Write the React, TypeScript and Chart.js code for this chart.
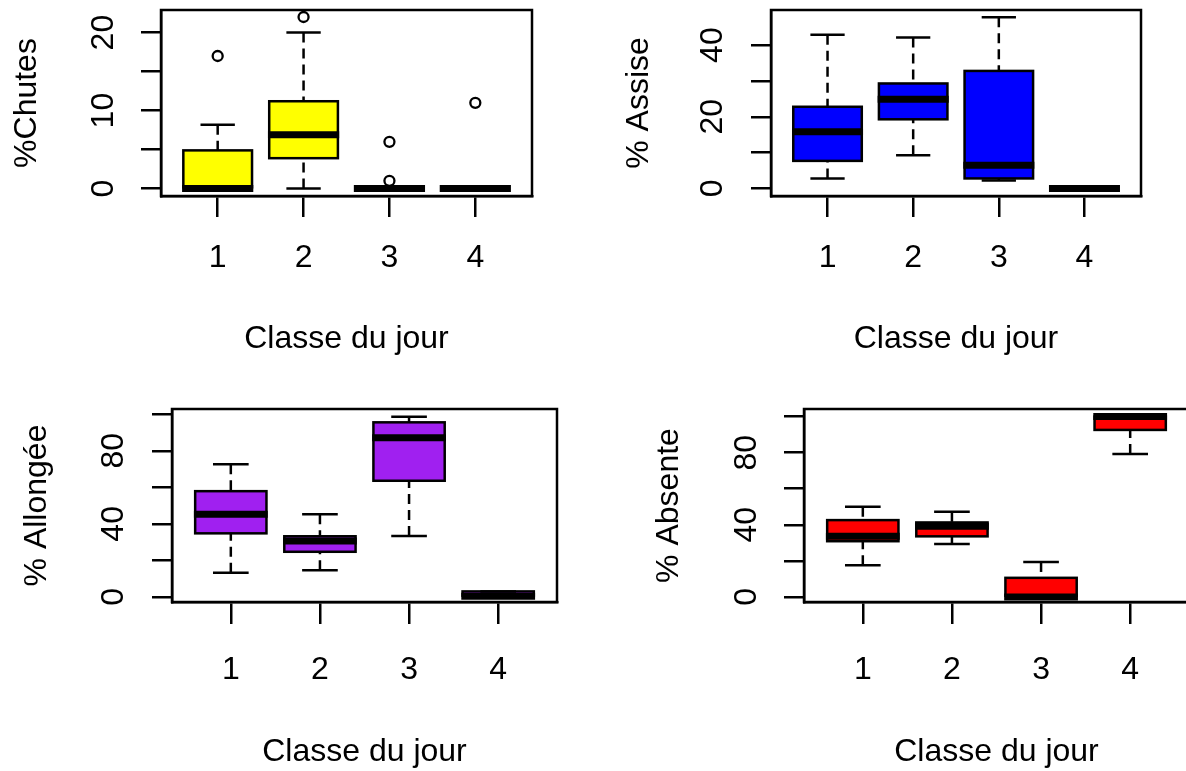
import React, { useEffect, useRef } from "react";
import { Chart, registerables } from "chart.js";

Chart.register(...registerables);

// ---------- data ----------
const classes = [1, 2, 3, 4];
const xTickValues = [1, 2, 3, 4];
const xTitle = "Classe du jour";

// % Chutes
const chutesLow = [0, 0, 0, 0];
const chutesQ1 = [0, 3.9, 0, 0];
const chutesMed = [0, 6.9, 0, 0];
const chutesQ3 = [4.9, 11.2, 0, 0];
const chutesHigh = [8.2, 20, 0, 0];
const chutesOutliers = [[17], [22], [6, 1], [11]];
const chutesTicks = [0, 5, 10, 15, 20];
const chutesTickLabels = [0, 10, 20];

// % Assise
const assiseLow = [2.8, 9.3, 2.2, 0];
const assiseQ1 = [7.7, 19.3, 2.8, 0];
const assiseMed = [15.8, 24.9, 6.5, 0];
const assiseQ3 = [22.8, 29.3, 32.8, 0];
const assiseHigh = [42.9, 42.1, 47.8, 0];
const assiseOutliers: number[][] = [[], [], [], []];
const assiseTicks = [0, 10, 20, 30, 40];
const assiseTickLabels = [0, 20, 40];

// % Allongée
const allongeeLow = [13.2, 14.6, 33.4, 0];
const allongeeQ1 = [34.8, 24.7, 63.6, 0];
const allongeeMed = [45.2, 30.6, 87.2, 0.3];
const allongeeQ3 = [57.9, 33.2, 95.6, 3];
const allongeeHigh = [72.6, 45.2, 98.7, 3];
const allongeeOutliers: number[][] = [[], [], [], []];
const allongeeTicks = [0, 20, 40, 60, 80, 100];
const allongeeTickLabels = [0, 40, 80];

// % Absente
const absenteLow = [17.6, 29.3, 0, 79.3];
const absenteQ1 = [30.9, 33.6, 0, 92.6];
const absenteMed = [33.6, 39.2, 0, 100];
const absenteQ3 = [42.6, 41.3, 10.6, 100];
const absenteHigh = [50, 47.2, 19.4, 100];
const absenteOutliers: number[][] = [[], [], [], []];
const absenteTicks = [0, 20, 40, 60, 80, 100];
const absenteTickLabels = [0, 40, 80];

// ---------- styles / layout ----------
const FONT = { family: "'Liberation Sans', Arial, sans-serif", size: 32, lineHeight: 1.2 };
const PAD = { left: 10, top: 60, right: 10, bottom: 10 };
const STAPLE_HALF = 0.2;
const X_MIN = 0.34;
const X_MAX = 4.66;
const LINE_W = 2.5;
const MEDIAN_W = 7;

type Area = { l: number; t: number; r: number; b: number };
type PanelSpec = {
  key: string;
  yTitle: string;
  color: string;
  low: number[];
  q1: number[];
  med: number[];
  q3: number[];
  high: number[];
  outliers: number[][];
  yMin: number;
  yMax: number;
  yTicks: number[];
  yLabels: number[];
  area: Area;
  yLabelPad: number;
  yAxisW: number;
  xTickLen: number;
  xLabelPad: number;
  xAxisH: number;
};

const panels: PanelSpec[] = [
  {
    key: "chutes", yTitle: "%Chutes", color: "#FFFF00",
    low: chutesLow, q1: chutesQ1, med: chutesMed, q3: chutesQ3, high: chutesHigh, outliers: chutesOutliers,
    yMin: -0.95, yMax: 22.9, yTicks: chutesTicks, yLabels: chutesTickLabels,
    area: { l: 161, t: 10, r: 532, b: 196 },
    yLabelPad: 19, yAxisW: 153, xTickLen: 21, xLabelPad: 22, xAxisH: 162,
  },
  {
    key: "assise", yTitle: "% Assise", color: "#0000FF",
    low: assiseLow, q1: assiseQ1, med: assiseMed, q3: assiseQ3, high: assiseHigh, outliers: assiseOutliers,
    yMin: -2.1, yMax: 49.8, yTicks: assiseTicks, yLabels: assiseTickLabels,
    area: { l: 771, t: 10, r: 1141, b: 196 },
    yLabelPad: 20, yAxisW: 151, xTickLen: 21, xLabelPad: 22, xAxisH: 162,
  },
  {
    key: "allongee", yTitle: "% Allongée", color: "#A020F0",
    low: allongeeLow, q1: allongeeQ1, med: allongeeMed, q3: allongeeQ3, high: allongeeHigh, outliers: allongeeOutliers,
    yMin: -2.8, yMax: 102.9, yTicks: allongeeTicks, yLabels: allongeeTickLabels,
    area: { l: 172, t: 409, r: 557, b: 602 },
    yLabelPad: 20.5, yAxisW: 154, xTickLen: 22, xLabelPad: 27, xAxisH: 169,
  },
  {
    key: "absente", yTitle: "% Absente", color: "#FF0000",
    low: absenteLow, q1: absenteQ1, med: absenteMed, q3: absenteQ3, high: absenteHigh, outliers: absenteOutliers,
    yMin: -2.8, yMax: 104.2, yTicks: absenteTicks, yLabels: absenteTickLabels,
    area: { l: 804, t: 409, r: 1189, b: 602 },
    yLabelPad: 19, yAxisW: 154, xTickLen: 22, xLabelPad: 27, xAxisH: 169,
  },
];

function makeBoxPlugin(spec: PanelSpec) {
  return {
    id: "boxExtras_" + spec.key,
    afterDatasetDraw(chart: any, args: any) {
      if (args.index !== 1) return;
      const ctx = chart.ctx as CanvasRenderingContext2D;
      const xs = chart.scales.x;
      const ys = chart.scales.y;
      const bars = chart.getDatasetMeta(1).data;
      ctx.save();
      ctx.strokeStyle = "#000";
      ctx.lineCap = "butt";
      classes.forEach((c, i) => {
        const bar = bars[i].getProps(["x", "y", "base", "width"], true);
        const xc = bar.x;
        const half = bar.width / 2;
        const sh = xs.getPixelForValue(c + STAPLE_HALF) - xs.getPixelForValue(c);
        // whiskers (dashed, drawn from whisker end toward the box)
        ctx.lineWidth = LINE_W;
        ctx.setLineDash([10, 6]);
        const seg = (from: number, to: number) => {
          if (from === to) return;
          ctx.beginPath();
          ctx.moveTo(xc, ys.getPixelForValue(from));
          ctx.lineTo(xc, ys.getPixelForValue(to));
          ctx.stroke();
        };
        seg(spec.high[i], spec.q3[i]);
        seg(spec.low[i], spec.q1[i]);
        ctx.setLineDash([]);
        // staples
        [spec.high[i], spec.low[i]].forEach((v) => {
          const y = ys.getPixelForValue(v);
          ctx.beginPath();
          ctx.moveTo(xc - sh, y);
          ctx.lineTo(xc + sh, y);
          ctx.stroke();
        });
        // box outline
        const top = Math.min(bar.y, bar.base);
        const h = Math.abs(bar.base - bar.y);
        ctx.strokeRect(xc - half, top, 2 * half, h);
        // median
        ctx.lineWidth = MEDIAN_W;
        const ym = ys.getPixelForValue(spec.med[i]);
        ctx.beginPath();
        ctx.moveTo(xc - half - LINE_W / 2, ym);
        ctx.lineTo(xc + half + LINE_W / 2, ym);
        ctx.stroke();
      });
      ctx.restore();
    },
    afterDraw(chart: any) {
      const ctx = chart.ctx as CanvasRenderingContext2D;
      const { left, top, right, bottom } = chart.chartArea;
      ctx.save();
      ctx.strokeStyle = "#000";
      ctx.lineWidth = LINE_W;
      ctx.strokeRect(left, top, right - left, bottom - top);
      ctx.restore();
    },
  };
}

function Panel({ spec }: { spec: PanelSpec }) {
  const ref = useRef<HTMLCanvasElement>(null);
  const { l, t, r, b } = spec.area;
  const cl = l - spec.yAxisW - PAD.left;
  const ct = t - PAD.top;
  const cw = r + PAD.right - cl;
  const ch = b + spec.xAxisH + PAD.bottom - ct;

  useEffect(() => {
    if (!ref.current) return;
    const outlierPoints: { x: number; y: number }[] = [];
    spec.outliers.forEach((arr, i) => arr.forEach((v) => outlierPoints.push({ x: classes[i], y: v })));
    const chart = new Chart(ref.current, {
      type: "bar",
      data: {
        datasets: [
          {
            type: "scatter",
            data: outlierPoints,
            pointStyle: "circle",
            pointRadius: 5,
            pointBorderWidth: 2.3,
            pointBorderColor: "#000",
            pointBackgroundColor: "rgba(0,0,0,0)",
            borderColor: "#000",
            backgroundColor: "rgba(0,0,0,0)",
          } as any,
          {
            type: "bar",
            data: classes.map((c, i) => ({ x: c, y: [spec.q1[i], spec.q3[i]] })),
            backgroundColor: spec.color,
            borderWidth: 0,
            borderSkipped: false,
            barPercentage: 0.8,
            categoryPercentage: 1,
          } as any,
        ],
      },
      options: {
        responsive: false,
        animation: false,
        events: [],
        layout: { padding: PAD },
        plugins: { legend: { display: false }, tooltip: { enabled: false } },
        scales: {
          x: {
            type: "linear",
            min: X_MIN,
            max: X_MAX,
            offset: false,
            afterBuildTicks: (s: any) => {
              s.ticks = xTickValues.map((v) => ({ value: v }));
            },
            afterFit: (s: any) => {
              s.height = spec.xAxisH;
            },
            grid: {
              offset: false,
              drawOnChartArea: false,
              drawTicks: true,
              tickLength: spec.xTickLen,
              color: "#000",
              tickColor: "#000",
              lineWidth: LINE_W,
            },
            border: { display: true, color: "#000", width: LINE_W },
            ticks: {
              autoSkip: false,
              maxRotation: 0,
              minRotation: 0,
              padding: spec.xLabelPad,
              font: FONT,
              color: "#000",
              callback: (v: any) => String(v),
            },
            title: { display: true, text: xTitle, font: FONT, color: "#000", padding: 0 },
          },
          y: {
            type: "linear",
            min: spec.yMin,
            max: spec.yMax,
            afterBuildTicks: (s: any) => {
              s.ticks = spec.yTicks.map((v) => ({ value: v }));
            },
            afterFit: (s: any) => {
              s.width = spec.yAxisW;
            },
            grid: {
              drawOnChartArea: false,
              drawTicks: true,
              tickLength: 20,
              color: "#000",
              tickColor: "#000",
              lineWidth: LINE_W,
            },
            border: { display: true, color: "#000", width: LINE_W },
            ticks: {
              autoSkip: false,
              minRotation: 90,
              maxRotation: 90,
              crossAlign: "center",
              padding: spec.yLabelPad,
              font: FONT,
              color: "#000",
              callback: (v: any) => (spec.yLabels.includes(v) ? String(v) : ""),
            },
            title: { display: true, text: spec.yTitle, font: FONT, color: "#000", padding: 0 },
          },
        },
      } as any,
      plugins: [makeBoxPlugin(spec)],
    });
    return () => chart.destroy();
  }, []);

  return (
    <canvas
      ref={ref}
      width={cw}
      height={ch}
      style={{ position: "absolute", left: cl, top: ct, width: cw, height: ch }}
    />
  );
}

export default function App() {
  return (
    <div
      style={{
        position: "absolute",
        left: 0,
        top: 0,
        width: 1186,
        height: 771,
        overflow: "hidden",
        background: "#fff",
      }}
    >
      {panels.map((p) => (
        <Panel key={p.key} spec={p} />
      ))}
    </div>
  );
}
